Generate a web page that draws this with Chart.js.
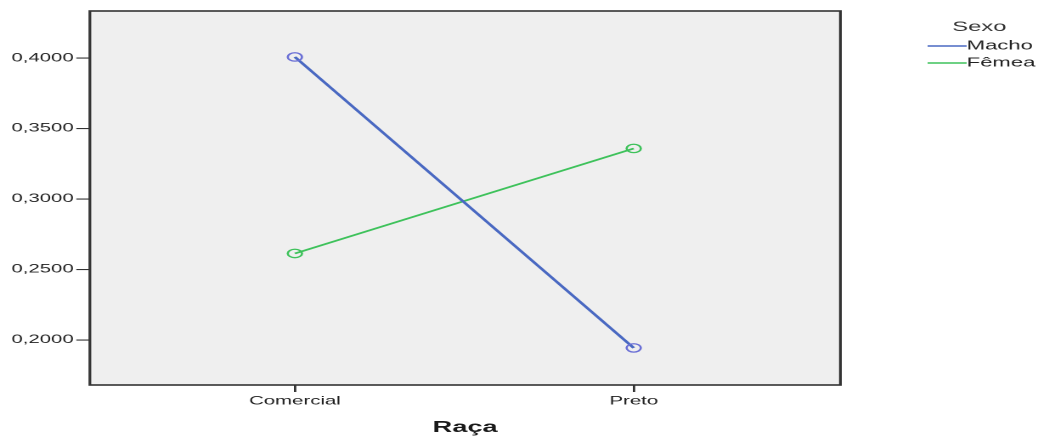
<!DOCTYPE html>
<html>
<head>
<meta charset="utf-8">
<script src="https://cdn.jsdelivr.net/npm/chart.js@4/dist/chart.umd.min.js"></script>
<style>
  html, body { margin: 0; padding: 0; background: #ffffff; overflow: hidden; }
  #chart { display: block; }
</style>
</head>
<body>
<!-- the drawing is rendered narrow and stretched horizontally to the window width -->
<canvas id="chart" width="611" height="437" style="width:1038px;height:437px;"></canvas>
<script>
// Estimated marginal means by breed (Raça) and sex (Sexo)
const categories = ['Comercial', 'Preto'];
const machoValues = [0.4007, 0.1943];
const femeaValues = [0.2613, 0.3358];
const yTickValues = [0.20, 0.25, 0.30, 0.35, 0.40];
const seriesLabels = ['Macho', 'Fêmea'];
const legendTitle = 'Sexo';
const xAxisTitle = 'Raça';

const FONT = '"Liberation Sans", Arial, sans-serif';

const toPoints = vals => vals.map((v, i) => ({ x: i, y: v }));

// Plot-area background and frame
const frame = {
  id: 'frame',
  beforeDatasetsDraw(chart) {
    const { ctx, chartArea: a } = chart;
    ctx.save();
    ctx.fillStyle = '#efefef';
    ctx.fillRect(a.left, a.top, a.right - a.left, a.bottom - a.top);
    ctx.restore();
  },
  afterDatasetsDraw(chart) {
    const { ctx, chartArea: a } = chart;
    ctx.save();
    ctx.strokeStyle = '#333333';
    ctx.lineWidth = 1.6;
    ctx.strokeRect(a.left, a.top, a.right - a.left, a.bottom - a.top);
    ctx.restore();
  }
};

// Legend at the top right: title plus a short line sample per series
const sideLegend = {
  id: 'sideLegend',
  afterDraw(chart) {
    const { ctx } = chart;
    ctx.save();
    ctx.fillStyle = '#333333';
    ctx.textBaseline = 'middle';
    ctx.textAlign = 'center';
    ctx.font = '14px ' + FONT;
    ctx.fillText(legendTitle, 576.5, 27);
    ctx.font = '13px ' + FONT;
    ctx.textAlign = 'left';
    chart.data.datasets.forEach((ds, i) => {
      const y = 46 + i * 17;
      ctx.strokeStyle = ds.borderColor;
      ctx.lineWidth = 1.4;
      ctx.beginPath();
      ctx.moveTo(546, y);
      ctx.lineTo(569, y);
      ctx.stroke();
      ctx.fillStyle = '#222222';
      ctx.fillText(ds.label, 569, y);
    });
    ctx.restore();
  }
};

new Chart(document.getElementById('chart'), {
  type: 'line',
  data: {
    datasets: [
      {
        label: seriesLabels[0],
        data: toPoints(machoValues),
        borderColor: '#4a69c2',
        borderWidth: 2,
        pointStyle: 'circle',
        pointRadius: 4.2,
        pointBorderWidth: 1.3,
        pointBorderColor: '#6a6fd6',
        pointBackgroundColor: 'rgba(0,0,0,0)',
        tension: 0
      },
      {
        label: seriesLabels[1],
        data: toPoints(femeaValues),
        borderColor: '#3ec25b',
        borderWidth: 1.7,
        pointStyle: 'circle',
        pointRadius: 4.2,
        pointBorderWidth: 1.3,
        pointBorderColor: '#3ec25b',
        pointBackgroundColor: 'rgba(0,0,0,0)',
        tension: 0
      }
    ]
  },
  options: {
    responsive: false,
    animation: false,
    devicePixelRatio: 2,
    layout: { padding: { top: 11, right: 116.3, bottom: 0, left: 0 } },
    plugins: { legend: { display: false }, tooltip: { enabled: false } },
    scales: {
      x: {
        type: 'linear',
        min: -0.605,
        max: 1.61,
        afterBuildTicks: s => { s.ticks = categories.map((_, i) => ({ value: i })); },
        afterFit: s => { s.height = 52; },
        border: { display: false },
        grid: { drawOnChartArea: false, drawTicks: true, tickLength: 7, color: '#333333', lineWidth: 1.4 },
        ticks: {
          padding: 2,
          maxRotation: 0,
          color: '#222222',
          font: { family: FONT, size: 12 },
          callback: v => categories[v] ?? ''
        },
        title: {
          display: true,
          text: xAxisTitle,
          color: '#1a1a1a',
          font: { family: FONT, size: 16, weight: 'bold' },
          padding: { top: 9, bottom: 0 }
        }
      },
      y: {
        min: 0.168,
        max: 0.4333,
        afterBuildTicks: s => { s.ticks = yTickValues.map(v => ({ value: v })); },
        afterFit: s => { s.width = 52.9; },
        border: { display: false },
        grid: { drawOnChartArea: false, drawTicks: true, tickLength: 8, color: '#333333', lineWidth: 1.1 },
        ticks: {
          padding: 1.5,
          color: '#222222',
          font: { family: FONT, size: 12 },
          callback: v => v.toFixed(4).replace('.', ',')
        }
      }
    }
  },
  plugins: [frame, sideLegend]
});
</script>
</body>
</html>
